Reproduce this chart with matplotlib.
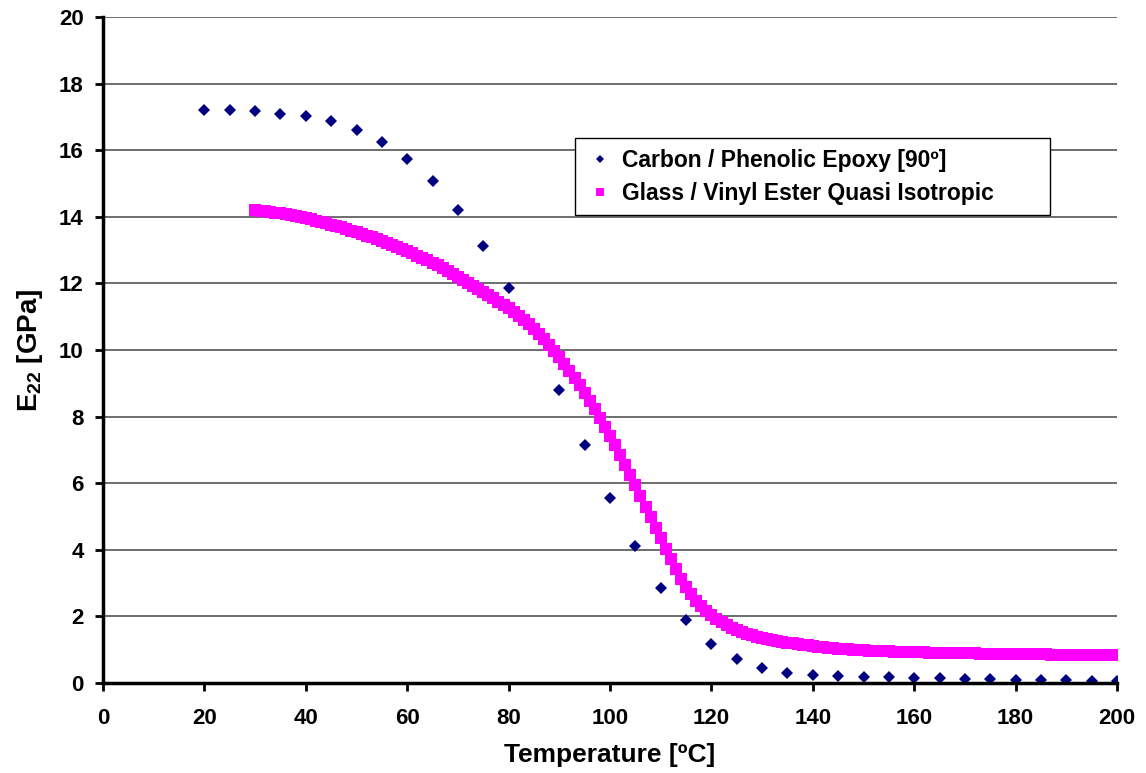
import numpy as np
import matplotlib
matplotlib.use('Agg')
import matplotlib.pyplot as plt

plt.rcParams['font.family'] = ['Liberation Sans', 'DejaVu Sans']
plt.rcParams['font.weight'] = 'bold'
plt.rcParams['mathtext.fontset'] = 'custom'
plt.rcParams['mathtext.rm'] = 'Liberation Sans:bold'
plt.rcParams['mathtext.bf'] = 'Liberation Sans:bold'

# --- data ---
carbon_temp = [20, 25, 30, 35, 40, 45, 50, 55, 60, 65, 70, 75, 80, 85, 90, 95, 100,
               105, 110, 115, 120, 125, 130, 135, 140, 145, 150, 155, 160, 165,
               170, 175, 180, 185, 190, 195, 200]
carbon_e22 = [17.22, 17.2, 17.17, 17.1, 17.02, 16.87, 16.62, 16.25, 15.75, 15.08,
              14.2, 13.12, 11.85, 10.6, 8.8, 7.15, 5.55, 4.1, 2.85, 1.88, 1.18,
              0.72, 0.46, 0.31, 0.25, 0.22, 0.19, 0.17, 0.16, 0.15, 0.13, 0.12,
              0.1, 0.09, 0.08, 0.07, 0.06]

glass_temp = np.arange(30, 201)   # one reading per degree
glass_e22 = [
    14.20, 14.18, 14.16, 14.14, 14.12, 14.10, 14.07, 14.04, 14.01, 13.98,   # 30-39
    13.95, 13.92, 13.88, 13.84, 13.80, 13.76, 13.72, 13.68, 13.63, 13.58,   # 40-49
    13.53, 13.48, 13.43, 13.38, 13.33, 13.27, 13.21, 13.15, 13.09, 13.03,   # 50-59
    12.97, 12.90, 12.83, 12.76, 12.69, 12.62, 12.54, 12.46, 12.38, 12.29,   # 60-69
    12.20, 12.11, 12.02, 11.93, 11.84, 11.75, 11.65, 11.55, 11.45, 11.35,   # 70-79
    11.25, 11.14, 11.02, 10.90, 10.77, 10.63, 10.48, 10.32, 10.15, 9.97,    # 80-89
    9.78, 9.58, 9.38, 9.17, 8.95, 8.72, 8.48, 8.23, 7.97, 7.70,             # 90-99
    7.43, 7.15, 6.86, 6.56, 6.25, 5.94, 5.62, 5.30, 4.98, 4.66,             # 100-109
    4.34, 4.02, 3.71, 3.41, 3.13, 2.88, 2.66, 2.47, 2.31, 2.17,             # 110-119
    2.04, 1.93, 1.83, 1.74, 1.66, 1.59, 1.53, 1.48, 1.43, 1.39,             # 120-129
    1.35, 1.32, 1.29, 1.26, 1.23, 1.21, 1.19, 1.17, 1.15, 1.13,             # 130-139
    1.11, 1.09, 1.08, 1.06, 1.05, 1.03, 1.02, 1.01, 1.00, 0.99,             # 140-149
    0.98, 0.97, 0.96, 0.96, 0.95, 0.95, 0.94, 0.94, 0.93, 0.93,             # 150-159
    0.92, 0.92, 0.92, 0.91, 0.91, 0.91, 0.90, 0.90, 0.90, 0.89,             # 160-169
    0.89, 0.89, 0.89, 0.88, 0.88, 0.88, 0.88, 0.87, 0.87, 0.87,             # 170-179
    0.87, 0.87, 0.86, 0.86, 0.86, 0.86, 0.86, 0.85, 0.85, 0.85,             # 180-189
    0.85, 0.85, 0.85, 0.84, 0.84, 0.84, 0.84, 0.84, 0.84, 0.84,             # 190-199
    0.84,                                                                   # 200
]

labels = ['Carbon / Phenolic Epoxy [90º]', 'Glass / Vinyl Ester Quasi Isotropic']

fig = plt.figure(figsize=(11.46, 7.73), dpi=100)
ax = fig.add_axes([0.0899, 0.1164, 0.8848, 0.8616])

ax.plot(carbon_temp, carbon_e22, linestyle='none', marker='D', markersize=6.5,
        color='#000080', markeredgewidth=0, label=labels[0], zorder=3)
ax.plot(glass_temp, glass_e22, linestyle='none', marker='s', markersize=8.5,
        color='#FF00FF', markeredgewidth=0, label=labels[1], zorder=4)

ax.set_xlim(0, 200)
ax.set_ylim(0, 20)
ax.set_xticks(np.arange(0, 201, 20))
ax.set_yticks(np.arange(0, 21, 2))
ax.yaxis.grid(True, color='#555555', linewidth=1.2)
ax.set_axisbelow(True)

for side in ['top', 'right']:
    ax.spines[side].set_visible(False)
for side in ['left', 'bottom']:
    ax.spines[side].set_linewidth(2.5)
    ax.spines[side].set_zorder(5)
ax.tick_params(direction='out', length=6, width=2, labelsize=16)
ax.tick_params(axis='x', pad=12)
ax.tick_params(axis='y', pad=8)
for lbl in ax.get_xticklabels() + ax.get_yticklabels():
    lbl.set_fontweight('bold')

ax.set_xlabel('Temperature [ºC]', fontsize=19, fontweight='bold', labelpad=10)
ax.set_ylabel(r'E$_{22}$ [GPa]', fontsize=20, fontweight='bold', labelpad=10)

# legend box fixed to the frame seen in the reference
leg = ax.legend(loc='upper left', bbox_to_anchor=(0.4655, 0.698, 0.4684, 0.12),
                mode='expand', fontsize=16.5,
                frameon=True, fancybox=False, edgecolor='black', framealpha=1,
                markerscale=0.6, handlelength=1.3, handletextpad=0.3,
                borderpad=0.45, labelspacing=0.45, borderaxespad=0)
leg.get_frame().set_linewidth(1.0)
for t in leg.get_texts():
    t.set_fontweight('bold')

plt.savefig('out.png', dpi=100)
